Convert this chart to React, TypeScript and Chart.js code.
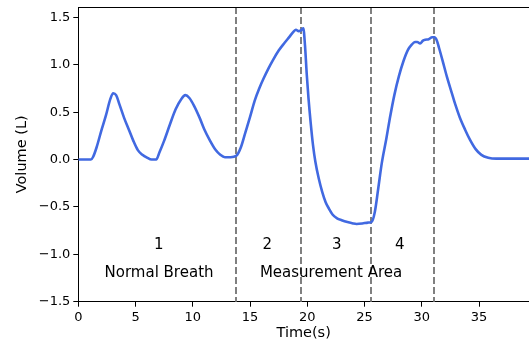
import React, { useEffect, useRef } from "react";
import { Chart, registerables } from "chart.js";

Chart.register(...registerables);

const times = [0, 1.1, 1.3, 1.6, 2.0, 2.4, 2.8, 3.05, 3.3, 3.6, 4.0, 4.4, 4.8, 5.2, 5.6, 6.0, 6.4, 6.8, 7.1, 7.5, 8.0, 8.5, 9.0, 9.35, 9.7, 10.1, 10.6, 11.0, 11.5, 12.0, 12.4, 12.8, 13.3, 13.8, 14.2, 14.6, 15.0, 15.4, 15.8, 16.2, 16.6, 17.0, 17.5, 18.0, 18.4, 18.8, 19.0, 19.25, 19.5, 19.65, 19.8, 19.95, 20.1, 20.3, 20.5, 20.7, 21.0, 21.3, 21.6, 21.9, 22.2, 22.6, 23.0, 23.5, 24.0, 24.3, 24.8, 25.3, 25.6, 25.9, 26.2, 26.5, 26.9, 27.2, 27.6, 28.0, 28.4, 28.8, 29.1, 29.4, 29.6, 29.85, 30.1, 30.3, 30.6, 30.9, 31.1, 31.3, 31.5, 31.8, 32.2, 32.6, 32.9, 33.3, 33.8, 34.2, 34.7, 35.2, 35.8, 36.5, 39.4];
const volumes = [0.0, 0.0, 0.03, 0.13, 0.30, 0.46, 0.64, 0.70, 0.68, 0.58, 0.44, 0.32, 0.20, 0.10, 0.05, 0.02, 0.0, 0.0, 0.08, 0.20, 0.37, 0.53, 0.64, 0.68, 0.65, 0.57, 0.44, 0.32, 0.20, 0.10, 0.05, 0.025, 0.025, 0.04, 0.13, 0.29, 0.45, 0.62, 0.75, 0.86, 0.96, 1.05, 1.15, 1.23, 1.29, 1.35, 1.37, 1.355, 1.37, 1.385, 1.2, 0.9, 0.65, 0.38, 0.15, -0.02, -0.20, -0.34, -0.45, -0.52, -0.58, -0.62, -0.64, -0.66, -0.675, -0.68, -0.675, -0.665, -0.66, -0.55, -0.3, -0.04, 0.22, 0.43, 0.68, 0.88, 1.04, 1.16, 1.21, 1.24, 1.24, 1.225, 1.255, 1.265, 1.27, 1.29, 1.29, 1.26, 1.18, 1.05, 0.87, 0.71, 0.59, 0.45, 0.31, 0.21, 0.11, 0.05, 0.02, 0.01, 0.01];

const phaseBoundaries = [13.77, 19.48, 25.59, 31.07];

const labelTexts = ["1", "Normal Breath", "2", "3", "4", "Measurement Area"];
const labelX = [7.02, 7.05, 16.5, 22.57, 28.08, 22.07];
const labelY = [-0.9, -1.2, -0.9, -0.9, -0.9, -1.2];

const xTicks = [0, 5, 10, 15, 20, 25, 30, 35];
const yTicks = [-1.5, -1.0, -0.5, 0.0, 0.5, 1.0, 1.5];
const xMin = 0;
const xMax = 39.36;
const yMin = -1.5;
const yMax = 1.61;

const FONT = "'DejaVu Sans', sans-serif";

const overlayPlugin = {
  id: "overlay",
  beforeDatasetsDraw(chart: any) {
    const { ctx, chartArea, scales } = chart;
    ctx.save();
    ctx.strokeStyle = "#808080";
    ctx.lineWidth = 2;
    ctx.setLineDash([7, 3]);
    phaseBoundaries.forEach((v) => {
      const x = Math.round(scales.x.getPixelForValue(v));
      ctx.beginPath();
      ctx.moveTo(x, chartArea.top);
      ctx.lineTo(x, chartArea.bottom);
      ctx.stroke();
    });
    ctx.restore();
  },
  afterDraw(chart: any) {
    const { ctx, chartArea, scales } = chart;
    ctx.save();
    ctx.fillStyle = "#000";
    ctx.font = `15px ${FONT}`;
    ctx.textAlign = "center";
    ctx.textBaseline = "middle";
    labelTexts.forEach((t, i) => {
      ctx.fillText(t, scales.x.getPixelForValue(labelX[i]), scales.y.getPixelForValue(labelY[i]));
    });
    ctx.strokeStyle = "#000";
    ctx.lineWidth = 1;
    ctx.beginPath();
    ctx.moveTo(chartArea.left, chartArea.top + 0.5);
    ctx.lineTo(chartArea.right, chartArea.top + 0.5);
    ctx.stroke();
    ctx.restore();
  },
};

const fmt = (v: number) => {
  const s = Math.abs(v).toFixed(1);
  return v < 0 ? "\u2212" + s : s;
};

export default function App() {
  const ref = useRef<HTMLCanvasElement | null>(null);
  useEffect(() => {
    if (!ref.current) return;
    const chart = new Chart(ref.current, {
      type: "line",
      data: {
        datasets: [
          {
            data: times.map((t, i) => ({ x: t, y: volumes[i] })),
            borderColor: "#4169E1",
            borderWidth: 2.6,
            pointRadius: 0,
            cubicInterpolationMode: "monotone",
            fill: false,
          },
        ],
      },
      options: {
        responsive: false,
        animation: false,
        devicePixelRatio: 1,
        layout: { padding: { top: 7, left: 0, right: 0, bottom: 0 } },
        plugins: { legend: { display: false }, tooltip: { enabled: false } },
        scales: {
          x: {
            type: "linear",
            min: xMin,
            max: xMax,
            afterBuildTicks: (s: any) => {
              s.ticks = xTicks.map((v) => ({ value: v }));
            },
            afterFit: (s: any) => {
              s.height = 45.3;
              s.paddingLeft = 0;
              s.paddingRight = 0;
            },
            grid: { drawOnChartArea: false, drawTicks: true, tickLength: 5, color: "#000" },
            border: { display: true, color: "#000", width: 1 },
            ticks: { color: "#000", font: { family: FONT, size: 13 }, padding: 3, maxRotation: 0, autoSkip: false, callback: (v: any) => String(v) },
            title: { display: true, text: "Time(s)", color: "#000", font: { family: FONT, size: 14.5 }, padding: { top: 0, bottom: 5 } },
          },
          y: {
            type: "linear",
            min: yMin,
            max: yMax,
            afterBuildTicks: (s: any) => {
              s.ticks = yTicks.map((v) => ({ value: v }));
            },
            afterFit: (s: any) => {
              s.width = 78.3;
              s.paddingTop = 0;
              s.paddingBottom = 0;
            },
            grid: { drawOnChartArea: false, drawTicks: true, tickLength: 5, color: "#000" },
            border: { display: true, color: "#000", width: 1 },
            ticks: { color: "#000", font: { family: FONT, size: 13 }, padding: 3, autoSkip: false, callback: (v: any) => fmt(Number(v)) },
            title: { display: true, text: "Volume (L)", color: "#000", font: { family: FONT, size: 14.5 }, padding: { top: 14, bottom: 0 } },
          },
        },
      },
      plugins: [overlayPlugin],
    });
    return () => chart.destroy();
  }, []);
  return (
    <div style={{ position: "absolute", left: 0, top: 0, width: 529, height: 347, background: "#fff" }}>
      <canvas ref={ref} width={529} height={347} />
    </div>
  );
}
